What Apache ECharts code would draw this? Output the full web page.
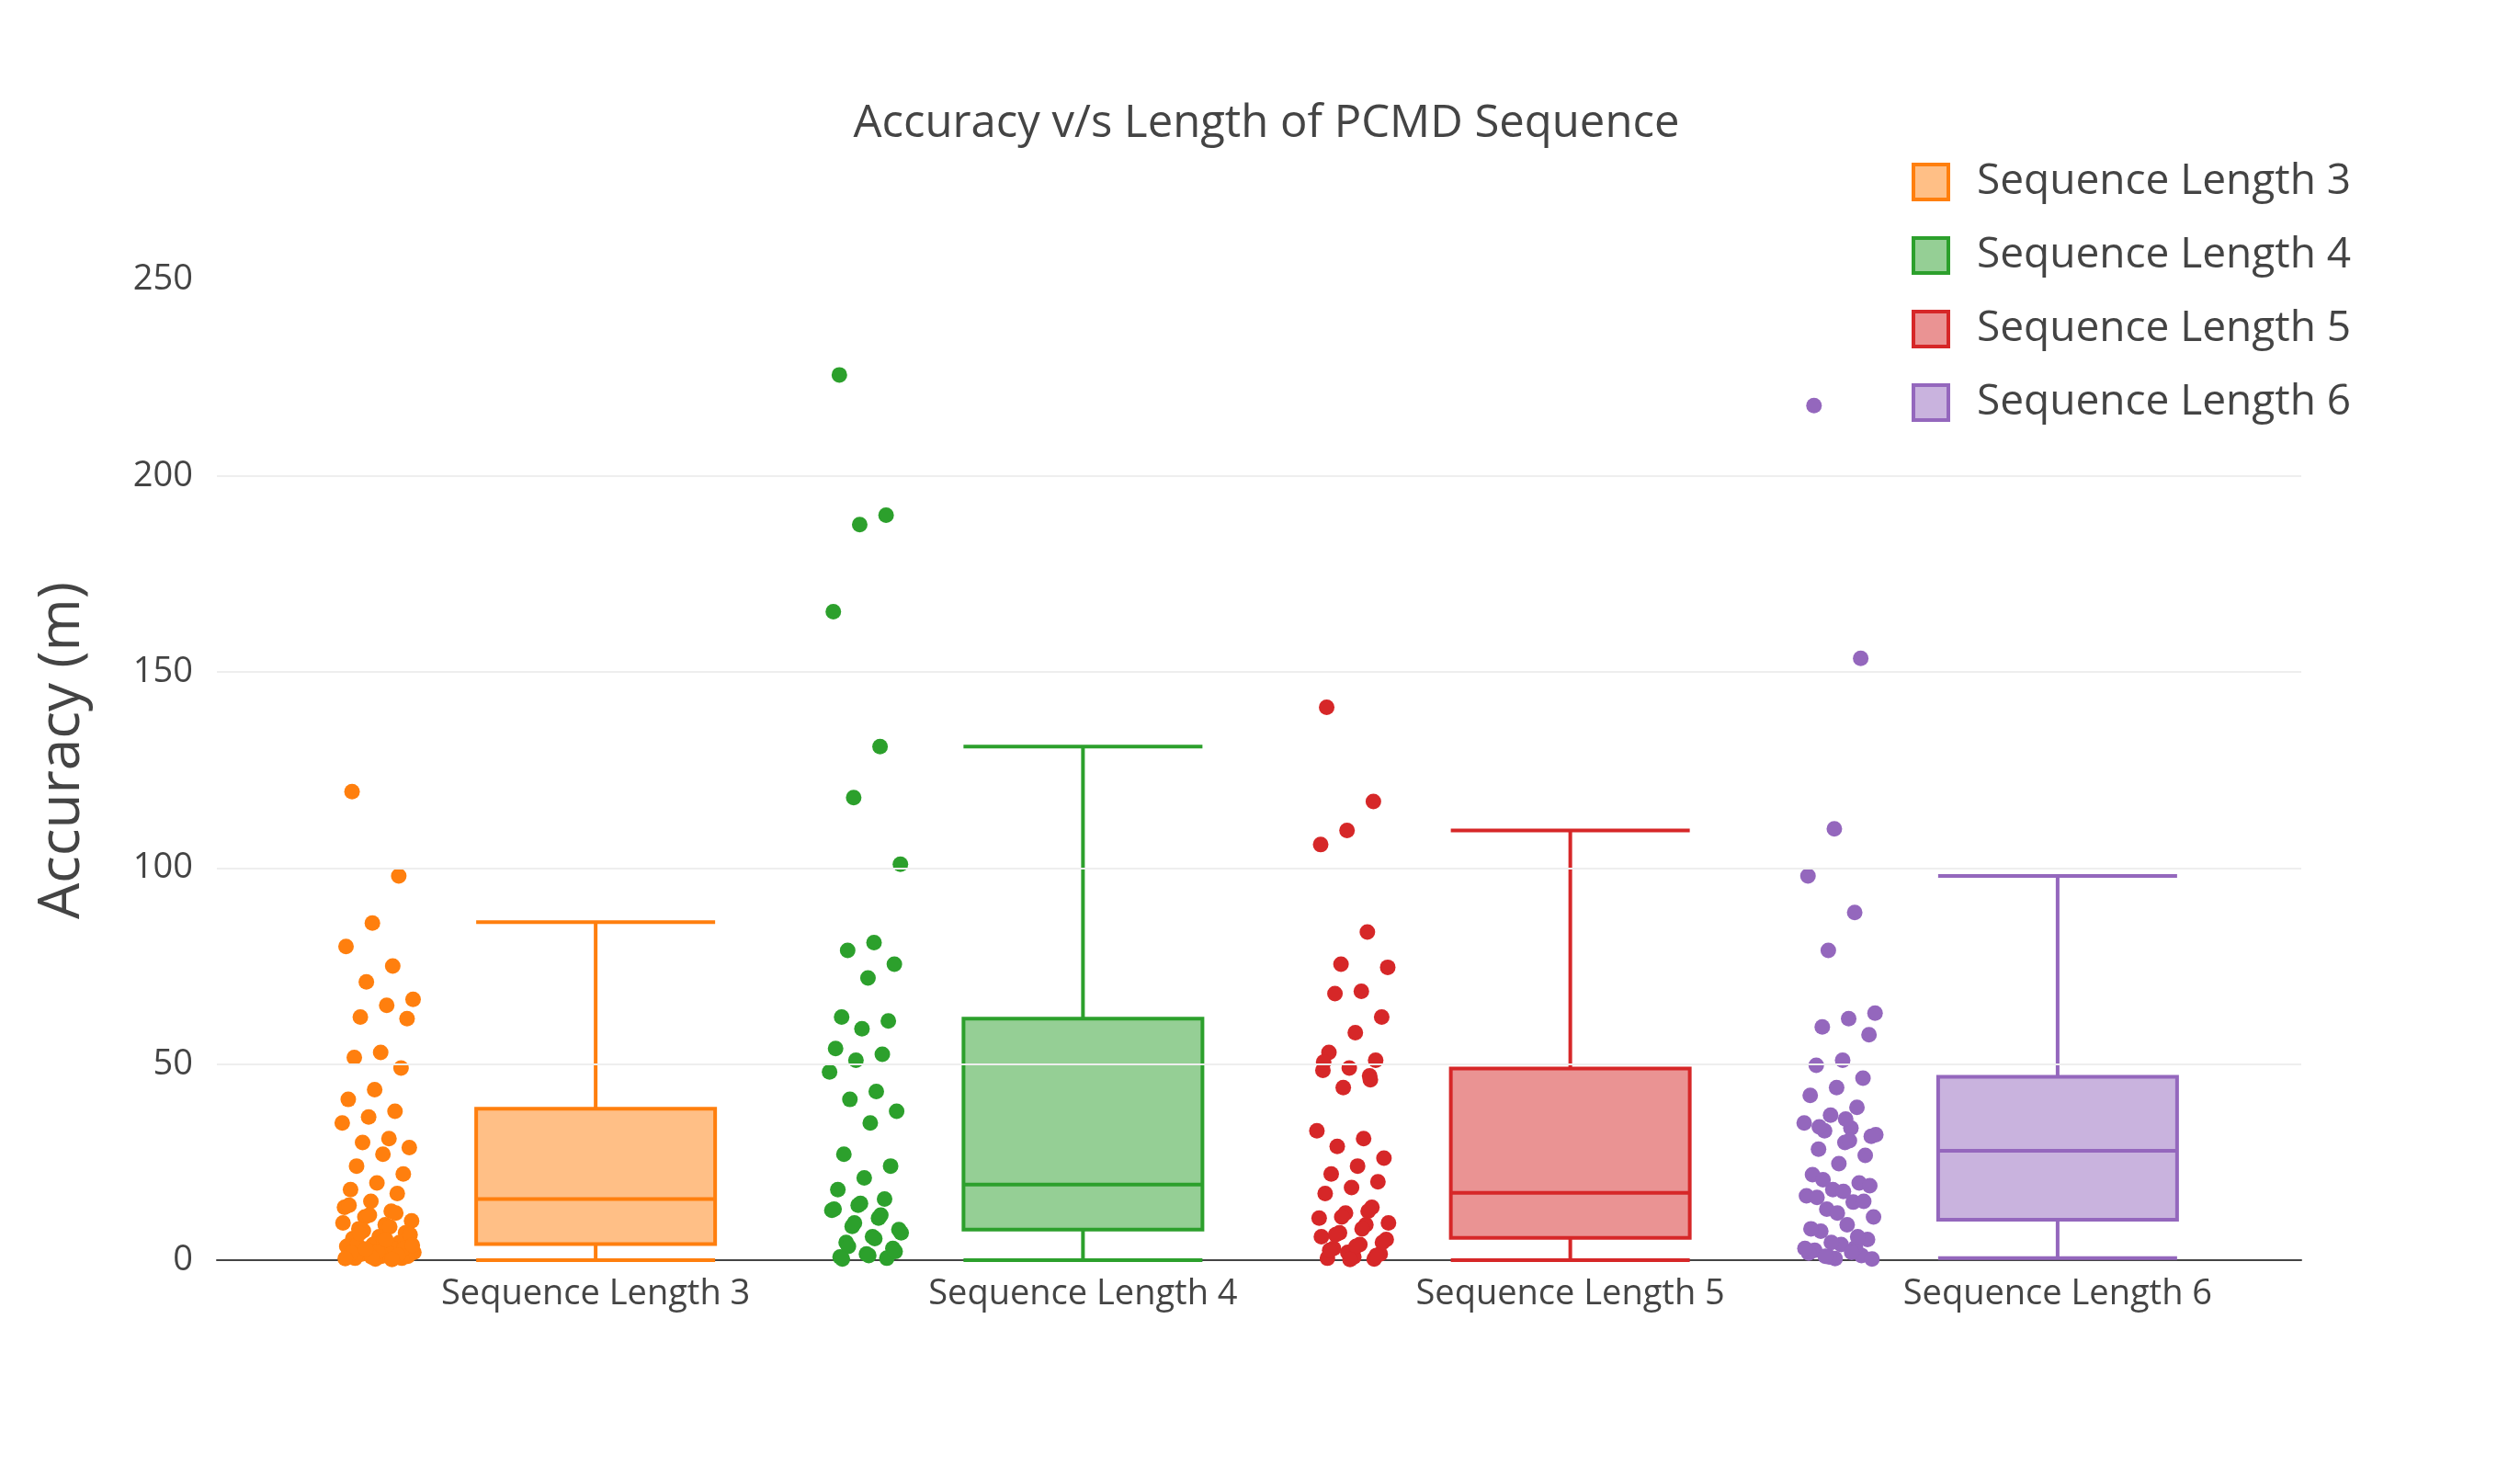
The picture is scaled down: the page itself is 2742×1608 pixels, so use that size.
<!DOCTYPE html>
<html>
<head>
<meta charset="utf-8">
<title>Accuracy v/s Length of PCMD Sequence</title>
<script src="https://cdn.jsdelivr.net/npm/echarts@6/dist/echarts.min.js"></script>
<style>html,body{margin:0;background:#fff}#chart{width:2742px;height:1608px}</style>
</head>
<body>
<div id="chart"></div>
<script>
var categories = ['Sequence Length 3', 'Sequence Length 4', 'Sequence Length 5', 'Sequence Length 6'];
var colors = ['#ff7f0e', '#2ca02c', '#d62728', '#9467bd'];
var fills = ['rgba(255,127,14,0.5)', 'rgba(44,160,44,0.5)', 'rgba(214,39,40,0.5)', 'rgba(148,103,189,0.5)'];
var gridTicks = [50, 100, 150, 200];
// [min, Q1, median, Q3, upper whisker]
var boxes = [
    [0, 4.1, 15.6, 38.6, 86.2],
    [0, 7.8, 19.3, 61.6, 131],
    [0, 5.7, 17.2, 48.9, 109.6],
    [0.5, 10.3, 27.9, 46.8, 98]
];
var pts3 = [119.5, 98, 86, 80, 75, 71, 66.5, 65, 62, 61.6, 53, 51.7, 49, 43.5, 41, 38, 36.5, 35, 31, 30, 28.7, 27, 24, 22, 19.7, 18, 17, 15, 13.5, 12.5, 11, 10, 9, 8, 7, 6, 5.5, 4.5, 4, 3.5, 3, 2.5, 2, 2, 1.5, 1, 1, 0.5, 0.5, 0.3,
    14, 12, 11.5, 9.5, 8.5, 7.5, 6.5, 5, 4, 3, 2.2, 1.8, 1.2, 0.8, 0.4, 0.2, 2.8, 3.8, 5.2, 6.8];
var pts4 = [225.8, 190, 187.6, 165.4, 131, 118, 101, 81, 79, 75.5, 72, 62, 61, 59, 54, 52.5, 51, 48, 43, 41, 38, 35, 27, 24, 21, 18, 15.6, 14, 12.7, 10.7, 8.6, 7.8, 6, 4.5, 3, 1.6, 0.8, 0.5,
    14.5, 13, 11.5, 9.5, 7, 5.5, 3.5, 2.2, 1.2, 0.3];
var pts5 = [141, 117, 109.6, 106, 83.7, 75.5, 74.7, 68.6, 68, 62, 58, 53, 51, 49, 48.4, 47, 44, 33, 31, 29, 26, 24, 22, 20, 18.5, 17, 13.5, 12, 10.7, 9, 7, 5.3, 4, 3, 1.6, 0.8, 0.5, 0.3, 2, 6,
    12.5, 11, 9.5, 8, 6.5, 4.5, 3.5, 2.5, 1.2, 0.2, 50.5, 46];
var pts6 = [218, 153.5, 110, 98, 88.7, 79, 63, 61.6, 59.5, 57.5, 51, 49.7, 46.4, 44, 42, 39, 37, 35, 33.7, 33, 31.6, 30, 28.3, 26.7, 24.6, 21.8, 19.7, 18, 16.4, 14.8, 13, 11, 9, 7.4, 5.3, 4, 2.5, 1.2, 0.4, 1.8, 3.2, 0.8,
    32, 30.5, 20.5, 19, 17.5, 16, 15, 12, 8, 6, 4.5, 3, 2, 1, 0.3, 36, 34];
var points = [pts3, pts4, pts5, pts6];

function jittered(vals, i) {
    return vals.map(function (v, k) {
        var j = (((k * 7919 + 13) % 97) / 97 - 0.5) * 0.15;
        return [i - 0.445 + j, v];
    });
}

var chart = echarts.init(document.getElementById('chart'));
var txt = '#444';
var series = [{
    type: 'scatter', xAxisIndex: 0, yAxisIndex: 0, data: [], silent: true,
    markLine: {
        silent: true, symbol: 'none', label: {show: false},
        lineStyle: {color: '#eee', width: 2, type: 'solid'},
        data: gridTicks.map(function (t) { return {yAxis: t}; })
    }
}, {
    type: 'boxplot',
    xAxisIndex: 1, yAxisIndex: 1,
    boxWidth: [260, 260],
    data: boxes.map(function (b, i) {
        return {value: b, itemStyle: {color: fills[i], borderColor: colors[i], borderWidth: 4}};
    })
}];
points.forEach(function (p, i) {
    series.push({
        name: categories[i], type: 'scatter',
        xAxisIndex: 2, yAxisIndex: 1,
        symbolSize: 17, clip: false,
        itemStyle: {color: colors[i], opacity: 1},
        data: jittered(p, i)
    });
});

chart.setOption({
    animation: false,
    textStyle: {fontFamily: 'Open Sans'},
    title: {
        text: 'Accuracy v/s Length of PCMD Sequence', left: 1373, top: 106, textAlign: 'center',
        textStyle: {fontSize: 49, fontWeight: 'normal', color: txt, fontFamily: 'Open Sans'}
    },
    legend: {
        left: 2075, top: 170, orient: 'vertical', icon: 'rect',
        itemWidth: 38, itemHeight: 38, itemGap: 34,
        textStyle: {fontSize: 46, lineHeight: 38, color: txt, padding: [0, 0, 0, 26]},
        data: categories.map(function (c, i) {
            return {name: c, itemStyle: {color: fills[i], borderColor: colors[i], borderWidth: 4}};
        })
    },
    grid: [
        {left: 236, right: 2742 - 2504, top: 262, bottom: 1608 - 1371},
        {left: 383, right: 2742 - 2504, top: 262, bottom: 1608 - 1371}
    ],
    xAxis: [
        {type: 'value', gridIndex: 0, min: 0, max: 1, axisLabel: {show: false}, axisTick: {show: false},
            splitLine: {show: false}, axisLine: {lineStyle: {color: '#444', width: 2}}},
        {type: 'category', gridIndex: 1, data: categories, axisLine: {show: false}, axisTick: {show: false},
            axisLabel: {fontSize: 38, color: txt, margin: 18}},
        {type: 'value', gridIndex: 1, min: -0.5, max: 3.5, show: false}
    ],
    yAxis: [
        {type: 'value', gridIndex: 0, min: 0, max: 260, interval: 50,
            name: 'Accuracy (m)', nameLocation: 'middle', nameGap: 137,
            nameTextStyle: {fontSize: 62, color: txt},
            axisLine: {show: false}, axisTick: {show: false},
            axisLabel: {fontSize: 38, color: txt, margin: 26, showMaxLabel: false,
                formatter: function (v) { return v > 250 ? '' : v; }},
            splitLine: {show: false}},
        {type: 'value', gridIndex: 1, min: 0, max: 260, show: false}
    ],
    series: series
});
</script>
</body>
</html>
